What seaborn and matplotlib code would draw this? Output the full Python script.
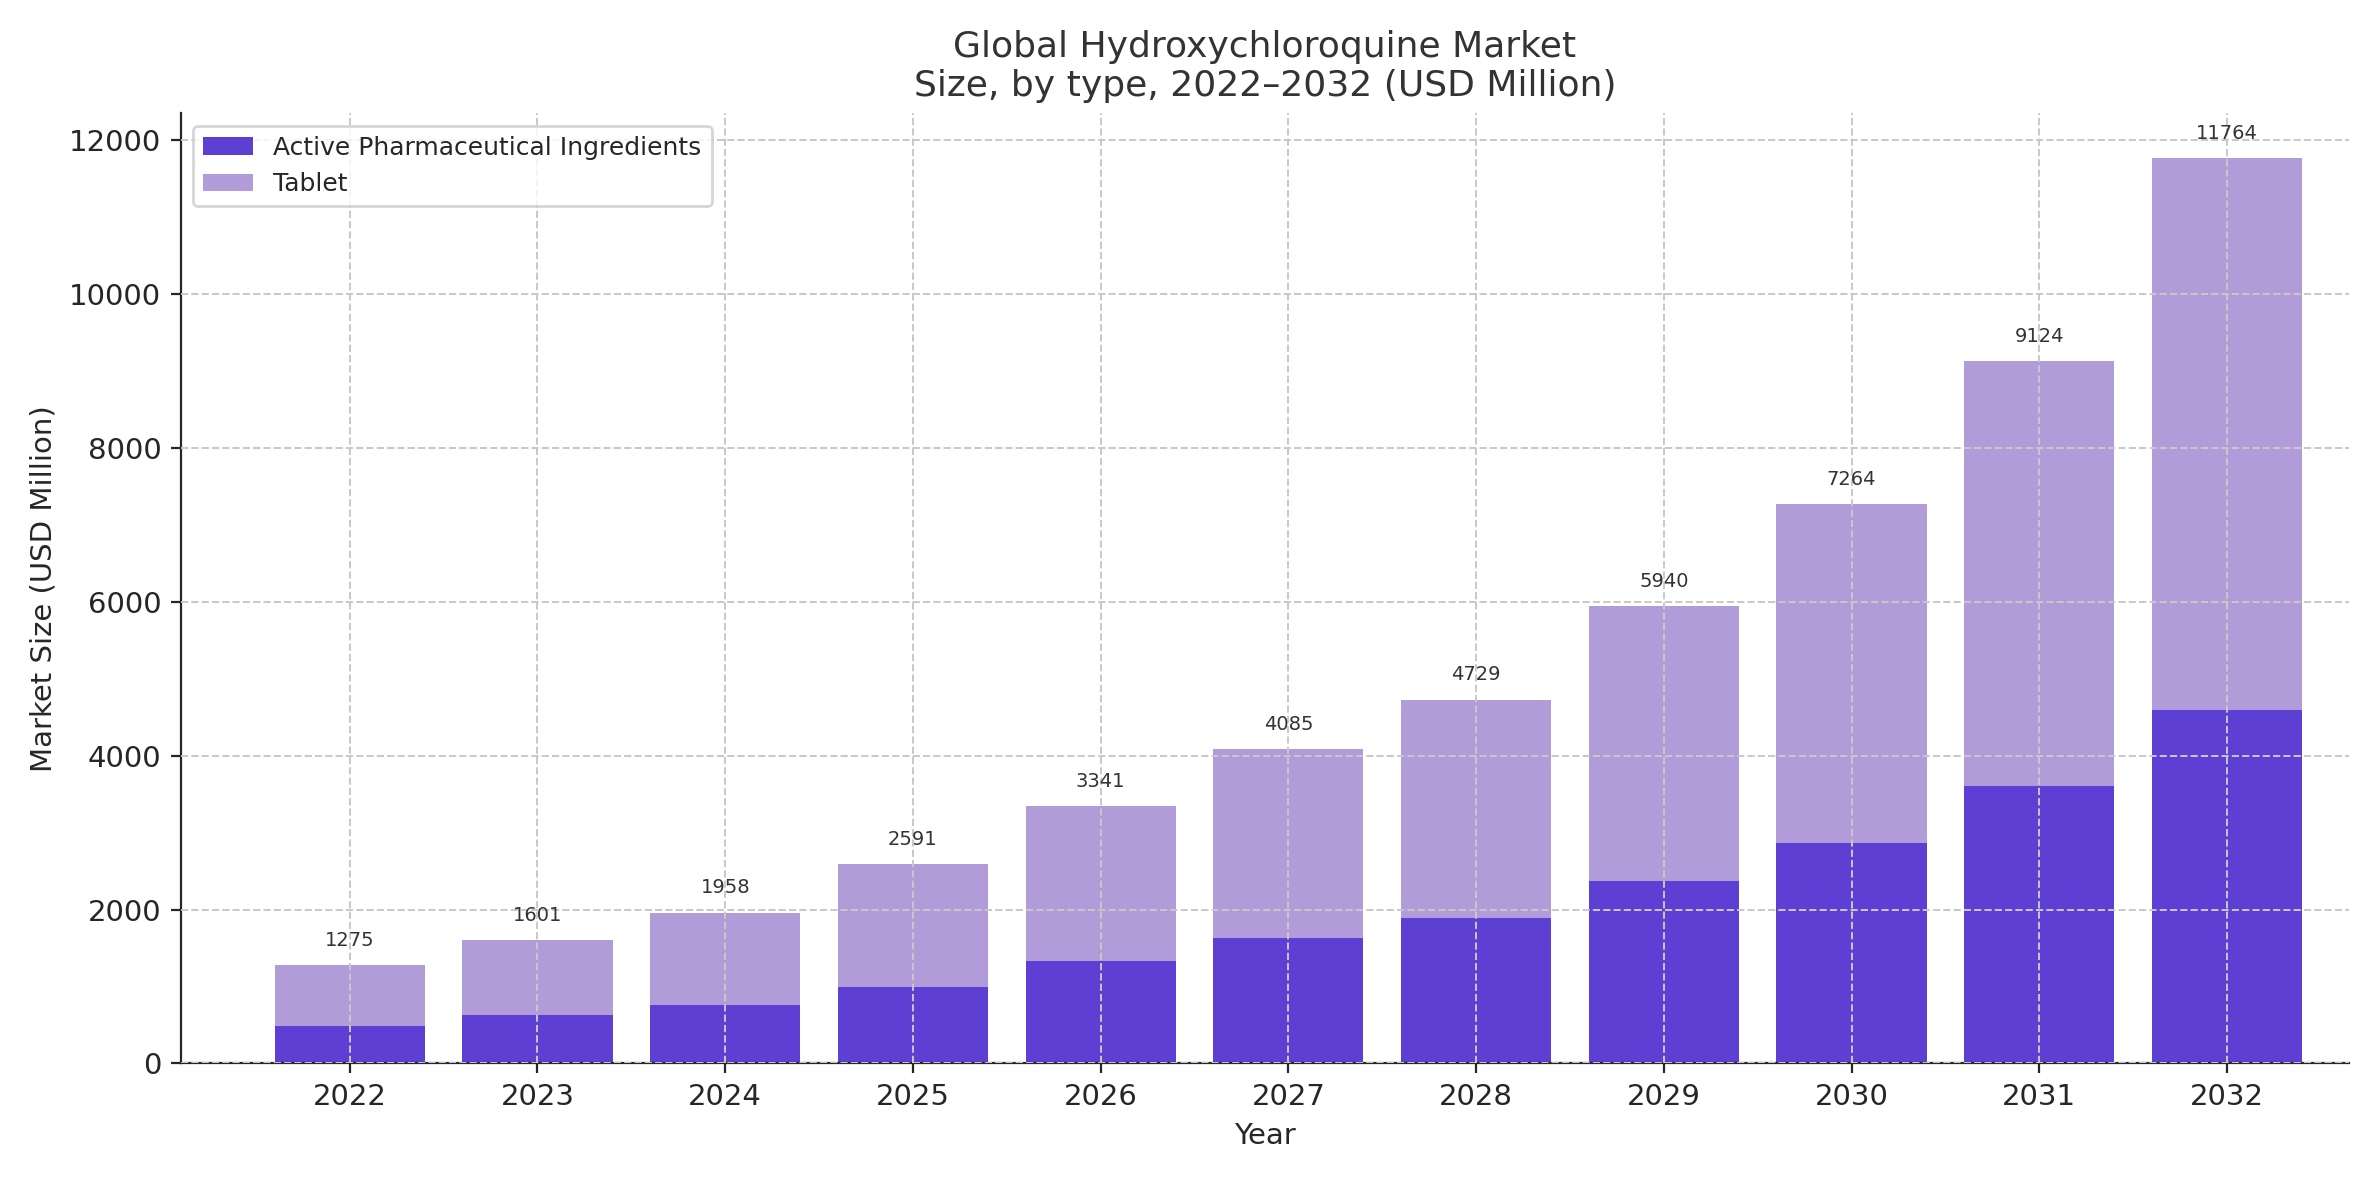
import matplotlib
matplotlib.use("Agg")
import matplotlib.pyplot as plt
import seaborn as sns
import pandas as pd

years = ["2022","2023","2024","2025","2026","2027","2028","2029","2030","2031","2032"]
api = [490, 625, 760, 995, 1325, 1635, 1890, 2375, 2865, 3600, 4595]
totals = [1275, 1601, 1958, 2591, 3341, 4085, 4729, 5940, 7264, 9124, 11764]
tablet = [t - a for t, a in zip(totals, api)]

df = pd.DataFrame({"Year": years, "API": api, "Tablet": tablet, "Total": totals})

sns.set_style("ticks")
fig, ax = plt.subplots(figsize=(11.895, 5.9), dpi=200)
sns.barplot(data=df, x="Year", y="Total", color="#b19cd9", saturation=1, width=0.8,
            label="Tablet", ax=ax, linewidth=0, zorder=1)
sns.barplot(data=df, x="Year", y="API", color="#5e3fd3", saturation=1, width=0.8,
            label="Active Pharmaceutical Ingredients", ax=ax, linewidth=0, zorder=1)
for i, t in enumerate(totals):
    ax.text(i, t + 200, str(t), ha="center", va="bottom", fontsize=7, color="#333333")
h, l = ax.get_legend_handles_labels()
ax.legend(h[::-1], l[::-1], loc="upper left", fontsize=9)
ax.set_axisbelow(False)
ax.grid(True, linestyle="--", color="#c8c8c8", linewidth=0.7, zorder=5)
ax.set_ylim(0, 12350)
ax.set_xlim(-0.9, 10.65)
sns.despine(ax=ax)
ax.set_title("Global Hydroxychloroquine Market\nSize, by type, 2022\u20132032 (USD Million)",
             fontsize=13, color="#333333")
ax.set_xlabel("Year", fontsize=10.5)
ax.set_ylabel("Market Size (USD Million)", fontsize=10.5)
ax.tick_params(labelsize=10.5)
fig.tight_layout()
fig.savefig("out.png", dpi=200)
